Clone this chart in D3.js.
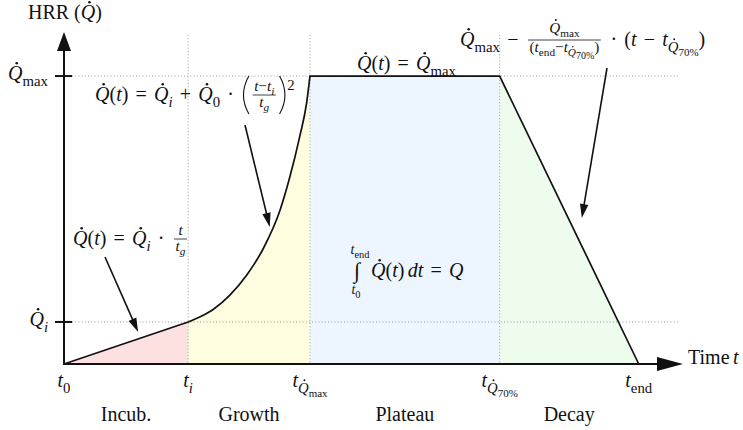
<!DOCTYPE html>
<html><head><meta charset="utf-8">
<script src="https://cdn.jsdelivr.net/npm/d3@7"></script>
<style>
html,body{margin:0;padding:0;background:#fff;}
</style></head><body>
<svg id="chart" width="743" height="430"></svg>
<script>
// Phase boundaries on the time axis: t0, ti, tQmax, tQ70%, tend
const phaseNames = ["Incub.", "Growth", "Plateau", "Decay"];
const boundaryTimes = [0, 21.6, 42.8, 75.8, 100];
// Heat release levels marked on the HRR axis: Qi, Qmax
const levelValues = [14.6, 100];

// Piecewise HRR curve, one small array pair per phase
const incubationT = [0, 21.6];
const incubationQ = [0, 14.6];
const growthT = [21.6, 23.7, 26.0, 28.9, 31.8, 34.7, 37.6, 39.3, 41.0, 42.2, 42.8];
const growthQ = [14.6, 16.4, 19.0, 24.0, 30.9, 40.2, 53.5, 65.0, 78.9, 90.5, 100];
const plateauT = [42.8, 75.8];
const plateauQ = [100, 100];
const decayT = [75.8, 100];
const decayQ = [100, 0];

const phaseFill = ["#fde0e0", "#fefde0", "#edf5fe", "#edfced"];
const INK = "#111";
const FONT = "Liberation Serif";

const svg = d3.select("#chart");
const x = d3.scaleLinear().domain([0, 107.7]).range([64, 683]);
const y = d3.scaleLinear().domain([0, 115.3]).range([364, 32]);

const zip = (ts, qs) => ts.map((t, i) => [t, qs[i]]);
const phases = [
  { pts: zip(incubationT, incubationQ), curve: d3.curveLinear },
  { pts: zip(growthT, growthQ), curve: d3.curveMonotoneX },
  { pts: zip(plateauT, plateauQ), curve: d3.curveLinear },
  { pts: zip(decayT, decayQ), curve: d3.curveLinear }
];

// ---- filled phase areas ----
phases.forEach((p, i) => {
  const area = d3.area().x(d => x(d[0])).y0(y(0)).y1(d => y(d[1])).curve(p.curve);
  svg.append("path").attr("d", area(p.pts)).attr("fill", phaseFill[i]);
});

// ---- dotted guide lines ----
const guides = svg.append("g").attr("stroke", "#9a9a9a").attr("stroke-width", 1)
  .attr("stroke-dasharray", "1,2.2").attr("fill", "none");
boundaryTimes.slice(1, 4).forEach(t => {
  guides.append("line").attr("x1", x(t)).attr("x2", x(t)).attr("y1", 35).attr("y2", y(0));
});
levelValues.forEach(q => {
  guides.append("line").attr("x1", 72).attr("x2", 680).attr("y1", y(q)).attr("y2", y(q));
});

// ---- HRR outline ----
let outline = "";
phases.forEach((p, i) => {
  const d = d3.line().x(d => x(d[0])).y(d => y(d[1])).curve(p.curve)(p.pts);
  outline += i === 0 ? d : d.replace(/^M/, "L");
});
svg.append("path").attr("d", outline).attr("fill", "none").attr("stroke", INK)
  .attr("stroke-width", 1.7).attr("stroke-linejoin", "miter");

// ---- axes with arrow heads ----
svg.append("line").attr("x1", x(0)).attr("x2", x(0)).attr("y1", y(0) + 1).attr("y2", 48)
  .attr("stroke", INK).attr("stroke-width", 2);
svg.append("line").attr("x1", x(0) - 1).attr("x2", 660).attr("y1", y(0)).attr("y2", y(0))
  .attr("stroke", INK).attr("stroke-width", 2);
svg.append("path").attr("d", `M${x(0)},32 L${x(0) + 7},51 L${x(0) - 7},51 Z`).attr("fill", INK);
svg.append("path").attr("d", `M683,${y(0)} L657,${y(0) - 7} L657,${y(0) + 7} Z`).attr("fill", INK);
levelValues.forEach(q => {
  svg.append("line").attr("x1", 55).attr("x2", 72).attr("y1", y(q)).attr("y2", y(q))
    .attr("stroke", INK).attr("stroke-width", 2);
});

// ---- tiny math typesetter ----
const norm = it => (typeof it === "string" ? { t: it } : it);
const smaller = fs => Math.max(fs * 0.74, 10);
function run(g, items, px, py, fs) {
  let cx = px;
  items.forEach(it => { cx += piece(g, norm(it), cx, py, fs); });
  return cx - px;
}
function piece(g, it, px, py, fs) {
  if (it.sp !== undefined) return it.sp * fs;
  if (it.sub) return run(g, it.sub, px, py + fs * 0.28, smaller(fs));
  if (it.sup) return run(g, it.sup, px, py - fs * 0.55, smaller(fs));
  if (it.frac) {
    const s = fs * 0.76, pad = fs * 0.12, bar = py - fs * 0.3;
    const ng = g.append("g"), dg = g.append("g");
    const nw = run(ng, it.frac[0], 0, 0, s);
    const dw = run(dg, it.frac[1], 0, 0, s);
    const w = Math.max(nw, dw) + fs * 0.15;
    const up = it.up || 0.2;
    ng.attr("transform", `translate(${px + pad + (w - nw) / 2},${bar - fs * up})`);
    dg.attr("transform", `translate(${px + pad + (w - dw) / 2},${bar + s * 0.78})`);
    g.append("line").attr("x1", px + pad).attr("x2", px + pad + w).attr("y1", bar).attr("y2", bar)
      .attr("stroke", INK).attr("stroke-width", 0.8);
    return w + 2 * pad;
  }
  if (it.paren) {
    const h = fs * 0.95, w = fs * 0.45, c = py - fs * 0.3, left = it.paren === "(";
    const xe = left ? px + w * 0.85 : px + w * 0.15;
    const xc = left ? px - w * 0.35 : px + w * 1.35;
    g.append("path").attr("d", `M${xe},${c - h} Q${xc},${c} ${xe},${c + h}`)
      .attr("fill", "none").attr("stroke", INK).attr("stroke-width", fs * 0.055);
    return w;
  }
  const tx = g.append("text").attr("x", px).attr("y", py)
    .attr("font-family", FONT).attr("fill", INK)
    .attr("font-size", fs).attr("font-style", it.i ? "italic" : "normal").text(it.t);
  const w = tx.node().getComputedTextLength();
  if (it.dot) g.append("circle").attr("cx", px + w * 0.6).attr("cy", py - fs * 0.84)
    .attr("r", fs * 0.065).attr("fill", INK);
  return w + (it.kern || 0) * fs;
}
function place(items, px, py, fs, anchor) {
  const g = svg.append("g");
  const w = run(g, items, 0, 0, fs);
  const dx = anchor === "middle" ? -w / 2 : anchor === "end" ? -w : 0;
  g.attr("transform", `translate(${px + dx},${py})`);
  return g;
}

const FS = 20;
const Q = { t: "Q", i: 1, dot: 1 };
const T = { t: "t", i: 1 };
const SP = { sp: 0.36 };
const th = { sp: 0.17 };
const sub = (...a) => ({ sub: a });

// ---- axis titles and level labels ----
place(["HRR (", Q, ")"], 28, 19, FS);
place([Q, sub("max")], 48, 80, FS, "end");
place([Q, sub({ t: "i", i: 1 })], 48, 326, FS, "end");
place(["Time", th, T], 688, 364, FS);

// ---- time tick labels ----
const tickItems = [
  [T, sub("0")],
  [T, sub({ t: "i", i: 1 })],
  [T, { sub: [Q, sub("max")] }],
  [T, { sub: [Q, sub("70%")] }],
  [T, sub("end")]
];
tickItems.forEach((it, i) => place(it, x(boundaryTimes[i]), 387, FS, "middle"));

// ---- phase names ----
phaseNames.forEach((n, i) => {
  const mid = (boundaryTimes[i] + boundaryTimes[i + 1]) / 2;
  place([n], x(mid), 421, FS, "middle");
});

// ---- formulas ----
place([Q, "(", T, ")", SP, "=", SP, Q, sub({ t: "i", i: 1 }), SP, "·", SP,
  { frac: [[T], [T, sub({ t: "g", i: 1 })]] }], 73, 245, FS);

place([Q, "(", T, ")", SP, "=", SP, Q, sub({ t: "i", i: 1 }), SP, "+", SP, Q, sub("0"), SP, "·", SP,
  { paren: "(" }, { frac: [[T, "−", T, sub({ t: "i", i: 1 })], [T, sub({ t: "g", i: 1 })]] }, { paren: ")" },
  { sup: ["2"] }], 95, 101, FS);

place([Q, "(", T, ")", SP, "=", SP, Q, sub("max")], 357, 70, FS);

place([Q, sub("max"), SP, "−", SP,
  { frac: [[Q, sub("max")], ["(", T, sub("end"), "−", T, { sub: [Q, sub("70%")] }, ")"]], up: 0.36 },
  SP, "·", SP, "(", T, SP, "−", SP, T, { sub: [Q, sub("70%")] }, ")"], 460, 46, FS);

// integral of the HRR over the whole fire
svg.append("text").attr("x", 357).attr("y", 278).attr("text-anchor", "middle")
  .attr("font-family", FONT).attr("font-size", 22).attr("fill", INK).text("∫");
place([T, sub("end")], 360, 254, 14, "middle");
place([T, sub("0")], 356, 294, 14, "middle");
place([Q, "(", T, ")", th, { t: "d", i: 1 }, T, SP, "=", SP, { t: "Q", i: 1 }], 371, 277, FS);

// ---- annotation arrows ----
function arrow(x1, y1, x2, y2) {
  const len = 14, hw = 4.2;
  const a = Math.atan2(y2 - y1, x2 - x1), ca = Math.cos(a), sa = Math.sin(a);
  const bx = x2 - len * ca, by = y2 - len * sa;
  svg.append("line").attr("x1", x1).attr("y1", y1).attr("x2", bx + ca).attr("y2", by + sa)
    .attr("stroke", INK).attr("stroke-width", 1.6);
  svg.append("path").attr("d", `M${x2},${y2} L${bx - hw * sa},${by + hw * ca} L${bx + hw * sa},${by - hw * ca} Z`)
    .attr("fill", INK);
}
arrow(105, 257, x(12.9), y(11.1));
arrow(245, 125, x(35.8), y(47.6));
arrow(607, 68, x(90.1), y(50.7));
</script>
</body></html>
